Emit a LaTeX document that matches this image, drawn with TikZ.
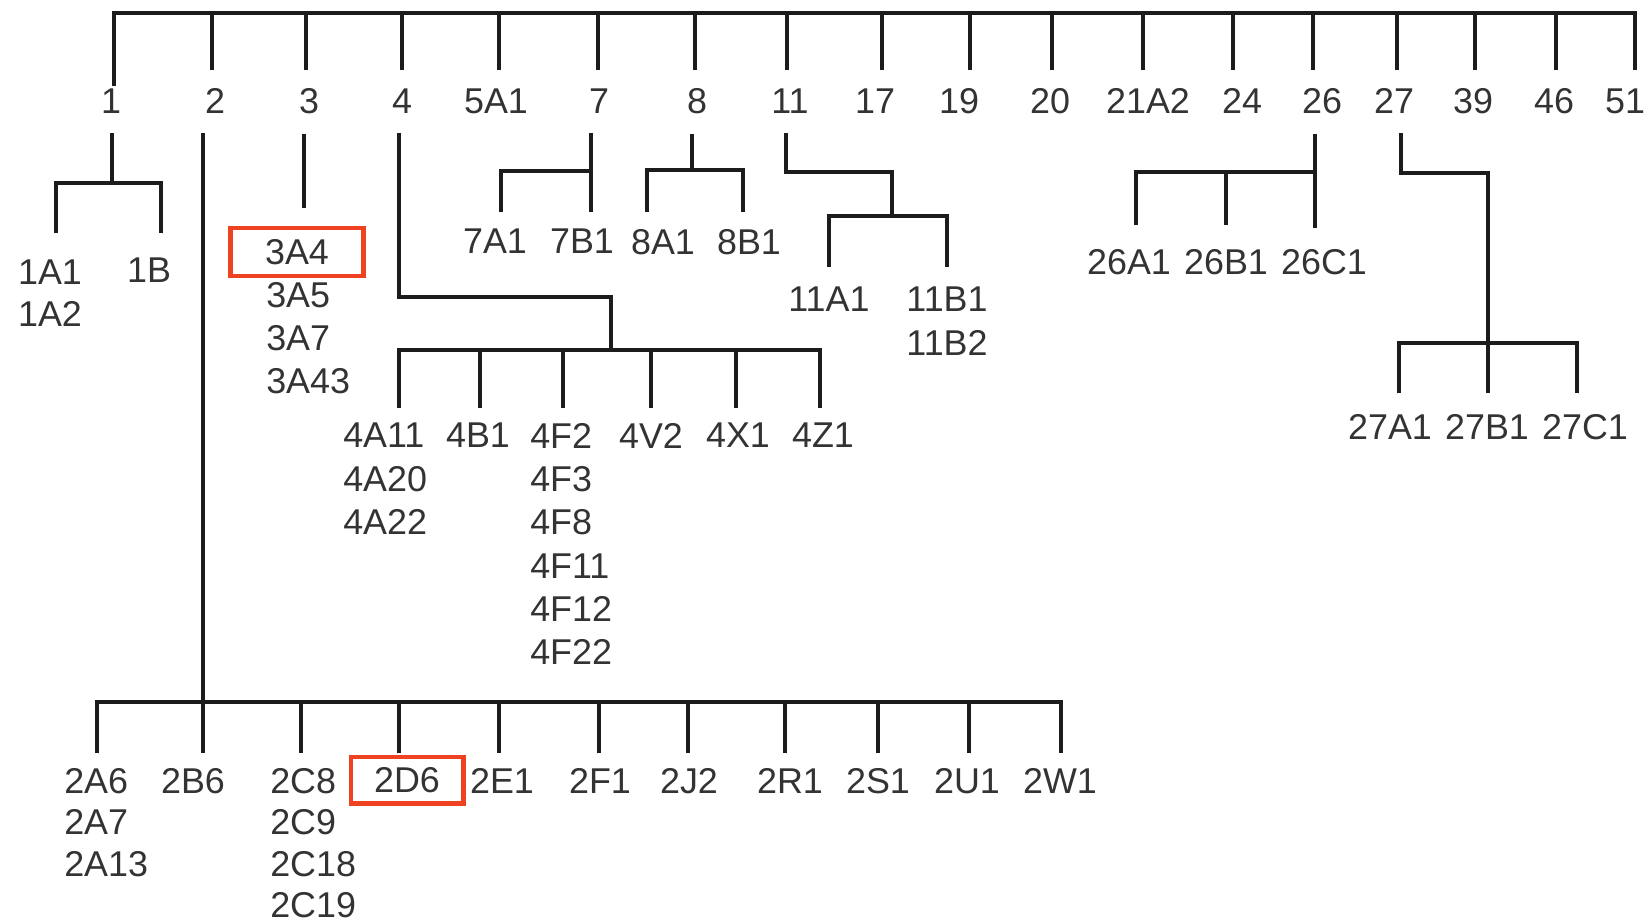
\documentclass[tikz,border=0pt]{standalone}
\usepackage{fontspec}
\setmainfont{Liberation Sans}
\definecolor{hilite}{RGB}{238,66,32}
\definecolor{ink}{RGB}{28,28,28}

\begin{document}
\begin{tikzpicture}[x=0.01cm,y=-0.01cm,line width=1.3pt,draw=ink,
  lbl/.style={inner sep=0pt,text=black!80,font=\fontsize{10.2}{12.3}\selectfont},
  lvl/.style={lbl,anchor=base},
  leaf/.style={lbl,anchor=north},
  stack/.style={lbl,align=left,anchor=north west},
  tight/.style={font=\fontsize{10.2}{11.8}\selectfont},
  boxed/.style={lbl,draw=hilite,line width=1.4pt},
  tk/.style={shorten >=1.6mm},
  bk/.style={shorten <=1.8mm}]
  \useasboundingbox (0,0) rectangle (1649,923);

  % first level
  \node[lvl] (t1) at (111,113) {1};
  \node[lvl] (t2) at (215,113) {2};
  \node[lvl] (t3) at (309,113) {3};
  \node[lvl] (t4) at (402,113) {4};
  \node[lvl] (t5) at (496,113) {5A1};
  \node[lvl] (t7) at (599,113) {7};
  \node[lvl] (t8) at (697,113) {8};
  \node[lvl] (t11) at (790,113) {11};
  \node[lvl] (t17) at (875,113) {17};
  \node[lvl] (t19) at (959,113) {19};
  \node[lvl] (t20) at (1050,113) {20};
  \node[lvl] (t21) at (1148,113) {21A2};
  \node[lvl] (t24) at (1242,113) {24};
  \node[lvl] (t26) at (1322,113) {26};
  \node[lvl] (t27) at (1394,113) {27};
  \node[lvl] (t39) at (1473,113) {39};
  \node[lvl] (t46) at (1554,113) {46};
  \node[lvl] (t51) at (1625,113) {51};

  \coordinate (k1) at (114,13);
  \coordinate (k2) at (212,13);
  \coordinate (k3) at (306,13);
  \coordinate (k4) at (402,13);
  \coordinate (k5) at (499,13);
  \coordinate (k7) at (598,13);
  \coordinate (k8) at (695,13);
  \coordinate (k11) at (787,13);
  \coordinate (k17) at (882,13);
  \coordinate (k19) at (970,13);
  \coordinate (k20) at (1052,13);
  \coordinate (k21) at (1143,13);
  \coordinate (k24) at (1233,13);
  \coordinate (k26) at (1313,13);
  \coordinate (k27) at (1397,13);
  \coordinate (k39) at (1475,13);
  \coordinate (k46) at (1556,13);
  \coordinate (k51) at (1635,13);

  \draw[tk] (k1 |- t1.north) -- (k1) -- (k51) -- (k51 |- t51.north);
  \draw[tk] (k2) -- (k2 |- t2.north);
  \draw[tk] (k3) -- (k3 |- t3.north);
  \draw[tk] (k4) -- (k4 |- t4.north);
  \draw[tk] (k5) -- (k5 |- t5.north);
  \draw[tk] (k7) -- (k7 |- t7.north);
  \draw[tk] (k8) -- (k8 |- t8.north);
  \draw[tk] (k11) -- (k11 |- t11.north);
  \draw[tk] (k17) -- (k17 |- t17.north);
  \draw[tk] (k19) -- (k19 |- t19.north);
  \draw[tk] (k20) -- (k20 |- t20.north);
  \draw[tk] (k21) -- (k21 |- t21.north);
  \draw[tk] (k24) -- (k24 |- t24.north);
  \draw[tk] (k26) -- (k26 |- t26.north);
  \draw[tk] (k27) -- (k27 |- t27.north);
  \draw[tk] (k39) -- (k39 |- t39.north);
  \draw[tk] (k46) -- (k46 |- t46.north);

  % 1
  \node[lbl,tight,align=center,anchor=north] (n1a) at (50,258) {1A1\\1A2};
  \node[leaf] (n1b) at (149,256) {1B};
  \coordinate (j1) at (112,183);
  \coordinate (e1a) at (56,233);
  \coordinate (e1b) at (161,233);
  \draw[bk] (j1 |- t1.south) -- (j1);
  \draw (e1a) -- (e1a |- j1) -- (e1b |- j1) -- (e1b);

  % 2
  \node[stack,tight] (n2a) at (62,766) {2A6\\2A7\\2A13};
  \node[leaf] (n2b) at (193,766) {2B6};
  \node[stack,tight] (n2c) at (268,766) {2C8\\2C9\\2C18\\2C19};
  \node[boxed,minimum width=1.12cm,minimum height=0.46cm] (n2d) at (407,780) {2D6};
  \node[leaf] (n2e) at (502,766) {2E1};
  \node[leaf] (n2f) at (600,766) {2F1};
  \node[leaf] (n2j) at (689,766) {2J2};
  \node[leaf] (n2r) at (790,766) {2R1};
  \node[leaf] (n2s) at (878,766) {2S1};
  \node[leaf] (n2u) at (967,766) {2U1};
  \node[leaf] (n2w) at (1060,766) {2W1};
  \coordinate (j2) at (203,702);
  \coordinate (e2a) at (97,753);
  \coordinate (e2b) at (203,753);
  \coordinate (e2c) at (301,753);
  \coordinate (e2d) at (399,753);
  \coordinate (e2e) at (499,753);
  \coordinate (e2f) at (599,753);
  \coordinate (e2j) at (688,753);
  \coordinate (e2r) at (785,753);
  \coordinate (e2s) at (878,753);
  \coordinate (e2u) at (969,753);
  \coordinate (e2w) at (1061,753);
  \draw[bk] (j2 |- t2.south) -- (e2b);
  \draw (e2a) -- (e2a |- j2) -- (e2w |- j2) -- (e2w);
  \draw (e2c |- j2) -- (e2c);
  \draw (e2d |- j2) -- (e2d);
  \draw (e2e |- j2) -- (e2e);
  \draw (e2f |- j2) -- (e2f);
  \draw (e2j |- j2) -- (e2j);
  \draw (e2r |- j2) -- (e2r);
  \draw (e2s |- j2) -- (e2s);
  \draw (e2u |- j2) -- (e2u);

  % 3
  \node[boxed,minimum width=1.33cm,minimum height=0.48cm] (n3a) at (297,252) {3A4};
  \node[stack] (n3b) at (264,280) {3A5\\3A7\\3A43};
  \coordinate (e3) at (304,208);
  \draw[bk] (e3 |- t3.south) -- (e3);

  % 4
  \node[stack] (n4a) at (341,421) {4A11\\4A20\\4A22};
  \node[leaf] (n4b) at (478,421) {4B1};
  \node[stack] (n4c) at (528,421) {4F2\\4F3\\4F8\\4F11\\4F12\\4F22};
  \node[leaf] (n4v) at (651,421) {4V2};
  \node[leaf] (n4x) at (738,421) {4X1};
  \node[leaf] (n4z) at (823,421) {4Z1};
  \coordinate (j4) at (611,297);
  \coordinate (b4) at (611,350);
  \coordinate (e4a) at (399,408);
  \coordinate (e4b) at (480,408);
  \coordinate (e4c) at (563,408);
  \coordinate (e4v) at (651,408);
  \coordinate (e4x) at (736,408);
  \coordinate (e4z) at (820,408);
  \draw[bk] (e4a |- t4.south) -- (e4a |- j4) -- (j4) -- (b4);
  \draw (e4a) -- (e4a |- b4) -- (e4z |- b4) -- (e4z);
  \draw (e4b |- b4) -- (e4b);
  \draw (e4c |- b4) -- (e4c);
  \draw (e4v |- b4) -- (e4v);
  \draw (e4x |- b4) -- (e4x);

  % 7
  \node[leaf] (n7a) at (495,227) {7A1};
  \node[leaf] (n7b) at (582,227) {7B1};
  \coordinate (j7) at (591,171);
  \coordinate (e7a) at (501,212);
  \coordinate (e7b) at (591,212);
  \draw[bk] (j7 |- t7.south) -- (e7b);
  \draw (e7a) -- (e7a |- j7) -- (j7);

  % 8
  \node[leaf] (n8a) at (663,227) {8A1};
  \node[leaf] (n8b) at (749,227) {8B1};
  \coordinate (j8) at (692,170);
  \coordinate (e8a) at (647,212);
  \coordinate (e8b) at (743,212);
  \draw[bk] (j8 |- t8.south) -- (j8);
  \draw (e8a) -- (e8a |- j8) -- (e8b |- j8) -- (e8b);

  % 11
  \node[leaf] (n11a) at (829,285) {11A1};
  \node[lbl,align=center,anchor=north] (n11b) at (947,285) {11B1\\11B2};
  \coordinate (s11) at (786,172);
  \coordinate (j11) at (892,172);
  \coordinate (b11) at (892,216);
  \coordinate (e11a) at (829,267);
  \coordinate (e11b) at (947,267);
  \draw[bk] (s11 |- t11.south) -- (s11) -- (j11) -- (b11);
  \draw (e11a) -- (e11a |- b11) -- (e11b |- b11) -- (e11b);

  % 26
  \node[leaf] (n26a) at (1129,247) {26A1};
  \node[leaf] (n26b) at (1226,247) {26B1};
  \node[leaf] (n26c) at (1324,247) {26C1};
  \coordinate (j26) at (1315,172);
  \coordinate (e26a) at (1136,225);
  \coordinate (e26b) at (1226,225);
  \coordinate (e26c) at (1315,228);
  \draw[bk] (e26c |- t26.south) -- (e26c);
  \draw (e26a) -- (e26a |- j26) -- (j26);
  \draw (e26b |- j26) -- (e26b);

  % 27
  \node[leaf] (n27a) at (1390,412) {27A1};
  \node[leaf] (n27b) at (1487,412) {27B1};
  \node[leaf] (n27c) at (1585,412) {27C1};
  \coordinate (s27) at (1401,173);
  \coordinate (j27) at (1488,173);
  \coordinate (b27) at (1488,343);
  \coordinate (e27a) at (1399,393);
  \coordinate (e27b) at (1488,393);
  \coordinate (e27c) at (1577,393);
  \draw[bk] (s27 |- t27.south) -- (s27) -- (j27) -- (e27b);
  \draw (e27a) -- (e27a |- b27) -- (e27c |- b27) -- (e27c);
\end{tikzpicture}
\end{document}
